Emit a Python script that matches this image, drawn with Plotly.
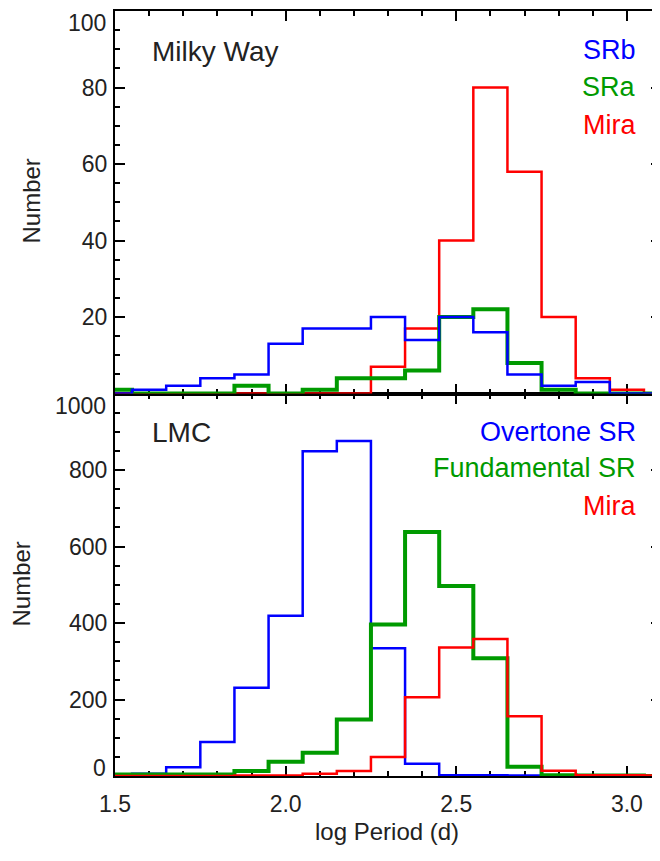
import plotly.graph_objects as go

# ---------------- data ----------------
log_period = [1.5, 1.6, 1.7, 1.8, 1.9, 2.0, 2.1, 2.2, 2.3, 2.4, 2.5, 2.6, 2.7, 2.8, 2.9, 3.0, 3.1]

# Milky Way panel
mw_srb = [0, 1, 2, 4, 5, 13, 17, 17, 20, 14, 20, 16, 5, 2, 3, 0, 0]
mw_sra = [1, 0, 0, 0, 2, 0, 1, 4, 4, 6, 20, 22, 8, 1, 0, 0, 0]
mw_mira = [0, 0, 0, 0, 0, 0, 0, 0, 7, 17, 40, 80, 58, 20, 4, 1, 0]

# LMC panel
lmc_overtone = [0, 6, 23, 89, 231, 419, 849, 876, 334, 32, 2, 2, 1, 0, 0, 0, 0]
lmc_fundamental = [4, 4, 4, 4, 13, 37, 61, 148, 396, 638, 497, 308, 24, 2, 1, 1, 0]
lmc_mira = [0, 0, 0, 0, 1, 1, 6, 13, 50, 206, 336, 358, 156, 14, 2, 2, 1]

x_tickvals = [1.5, 2.0, 2.5, 3.0]
x_ticktext = ["1.5", "2.0", "2.5", "3.0"]
mw_tickvals = [0, 20, 40, 60, 80, 100]
mw_ticktext = ["", "20", "40", "60", "80", ""]
lmc_tickvals = [0, 200, 400, 600, 800, 1000]
lmc_ticktext = ["", "200", "400", "600", "800", ""]

# ---------------- styling ----------------
W, H = 660, 861
OFF = 8                      # page offset of the figure (body margin)
ML, MR, MT, MB = 107, 7, 1, 93
PW, PH = W - ML - MR, H - MT - MB

BLUE = "#0000ff"
GREEN = "#009a00"
RED = "#ff0000"
FONT = "Liberation Sans, Arial, Helvetica, sans-serif"
TXT = "#222222"


def px2paper(px, py):
    fx, fy = px - OFF, py - OFF
    return (fx - ML) / PW, (H - MB - fy) / PH


fig = go.Figure()

# Milky Way (top panel): red, green, blue (blue on top)
for ys, col, w in [(mw_mira, RED, 2.5), (mw_sra, GREEN, 4), (mw_srb, BLUE, 2.5)]:
    fig.add_trace(go.Scatter(x=log_period, y=ys, mode="lines", line=dict(color=col, width=w, shape="hvh"),
                             xaxis="x2", yaxis="y2", showlegend=False, hoverinfo="skip"))

# LMC (bottom panel): blue, green, red (red on top)
for ys, col, w in [(lmc_overtone, BLUE, 2.5), (lmc_fundamental, GREEN, 4), (lmc_mira, RED, 2.5)]:
    fig.add_trace(go.Scatter(x=log_period, y=ys, mode="lines", line=dict(color=col, width=w, shape="hvh"),
                             xaxis="x", yaxis="y", showlegend=False, hoverinfo="skip"))

axis_common = dict(
    showline=True, linecolor="black", linewidth=2, mirror="ticks",
    ticks="inside", ticklen=10, tickwidth=2, tickcolor="black",
    showgrid=False, zeroline=False, layer="below traces",
    tickfont=dict(family=FONT, size=23, color=TXT),
)


def minor(dt, t0):
    return dict(ticks="inside", ticklen=5, tickwidth=2, tickcolor="black", dtick=dt, tick0=t0)


fig.update_layout(
    width=W, height=H,
    margin=dict(l=ML, r=MR, t=MT, b=MB, pad=0),
    paper_bgcolor="white", plot_bgcolor="white",
    xaxis=dict(axis_common, domain=[0, 1], anchor="y", range=[1.5, 3.1],
               tickvals=x_tickvals, ticktext=x_ticktext, ticklabelstandoff=6,
               minor=minor(0.1, 1.5)),
    yaxis=dict(axis_common, domain=[0, 0.5], anchor="x", range=[0, 1000],
               tickvals=lmc_tickvals, ticktext=lmc_ticktext, ticklabelstandoff=1,
               minor=minor(50, 0)),
    xaxis2=dict(axis_common, domain=[0, 1], anchor="y2", range=[1.5, 3.1], matches="x",
                tickvals=x_tickvals, showticklabels=False, minor=minor(0.1, 1.5)),
    yaxis2=dict(axis_common, domain=[0.5, 1], anchor="x2", range=[0, 100],
                tickvals=mw_tickvals, ticktext=mw_ticktext, ticklabelstandoff=1,
                minor=minor(5, 0)),
)

annotations = []


def add_text(text, px, py, size, color, xanchor="center", textangle=0):
    xp, yp = px2paper(px, py)
    annotations.append(dict(text=text, x=xp, y=yp, xref="paper", yref="paper", xanchor=xanchor,
                            yanchor="middle", showarrow=False, textangle=textangle,
                            font=dict(family=FONT, size=size, color=color)))


# panel titles
add_text("Milky Way", 150, 50, 28, TXT, xanchor="left")
add_text("LMC", 150, 432, 28, TXT, xanchor="left")
# class labels
add_text("SRb", 638, 48, 27, BLUE, xanchor="right")
add_text("SRa", 638, 85, 27, GREEN, xanchor="right")
add_text("Mira", 638, 123, 27, RED, xanchor="right")
add_text("Overtone SR", 638, 431, 27, BLUE, xanchor="right")
add_text("Fundamental SR", 638, 467, 27, GREEN, xanchor="right")
add_text("Mira", 638, 505, 27, RED, xanchor="right")
# axis titles
add_text("Number", 32, 200, 24, TXT, textangle=-90)
add_text("Number", 22, 584, 24, TXT, textangle=-90)
add_text("log Period (d)", 387, 832, 24, TXT)
# end tick labels kept inside the frame, as in the reference
add_text("100", 108, 21, 23, TXT, xanchor="right")
add_text("1000", 108, 405, 23, TXT, xanchor="right")
add_text("0", 108, 768, 23, TXT, xanchor="right")

fig.update_layout(annotations=annotations)
fig.write_html("out.html")
